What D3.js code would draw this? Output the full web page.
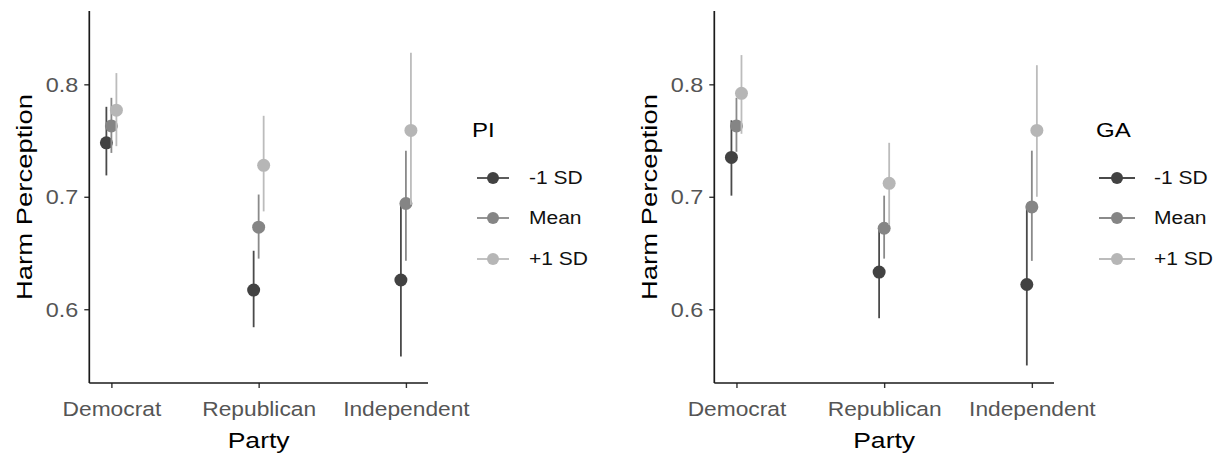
<!DOCTYPE html>
<html><head><meta charset="utf-8">
<script src="https://cdn.jsdelivr.net/npm/d3@7/dist/d3.min.js"></script>
<style>body{margin:0;background:#fff}svg{display:block}text{font-family:"Liberation Sans",Arial,sans-serif}</style>
</head><body><svg id="c" width="1224" height="456"></svg>
<script>
// ---- data ----
const categories = ["Democrat", "Republican", "Independent"];
const groups = ["-1 SD", "Mean", "+1 SD"];
const yTicks = [0.6, 0.7, 0.8];
const yTickLabels = ["0.6", "0.7", "0.8"];

// PI panel: estimate, lower, upper per group (order = categories)
const piMinusEst  = [0.748, 0.617, 0.626];
const piMinusLo   = [0.719, 0.584, 0.558];
const piMinusHi   = [0.780, 0.652, 0.694];
const piMeanEst   = [0.763, 0.673, 0.694];
const piMeanLo    = [0.739, 0.645, 0.643];
const piMeanHi    = [0.788, 0.702, 0.741];
const piPlusEst   = [0.777, 0.728, 0.759];
const piPlusLo    = [0.745, 0.687, 0.693];
const piPlusHi    = [0.810, 0.772, 0.828];

// GA panel
const gaMinusEst  = [0.735, 0.633, 0.622];
const gaMinusLo   = [0.701, 0.592, 0.550];
const gaMinusHi   = [0.768, 0.673, 0.693];
const gaMeanEst   = [0.763, 0.672, 0.691];
const gaMeanLo    = [0.740, 0.645, 0.643];
const gaMeanHi    = [0.788, 0.701, 0.741];
const gaPlusEst   = [0.792, 0.712, 0.759];
const gaPlusLo    = [0.756, 0.675, 0.700];
const gaPlusHi    = [0.826, 0.748, 0.817];

// ---- build ----
function series(est, lo, hi, g) {
  return categories.map((c, i) => ({cat: c, group: g, est: est[i], lo: lo[i], hi: hi[i]}));
}
const panels = [
  {title: "PI", x0: 89.3, x1: 428, ylab: 32, legendX: 472, keyX0: 477, keyX1: 509, labelX: 529,
   data: [series(piMinusEst, piMinusLo, piMinusHi, groups[0]),
          series(piMeanEst, piMeanLo, piMeanHi, groups[1]),
          series(piPlusEst, piPlusLo, piPlusHi, groups[2])]},
  {title: "GA", x0: 714.3, x1: 1054, ylab: 657, legendX: 1096, keyX0: 1099, keyX1: 1135, labelX: 1154,
   data: [series(gaMinusEst, gaMinusLo, gaMinusHi, groups[0]),
          series(gaMeanEst, gaMeanLo, gaMeanHi, groups[1]),
          series(gaPlusEst, gaPlusLo, gaPlusHi, groups[2])]}
];

const color = d3.scaleOrdinal().domain(groups).range(["#424242", "#858585", "#b6b6b6"]);
const lineColor = d3.scaleOrdinal().domain(groups).range(["#4a4a4a", "#8a8a8a", "#bcbcbc"]);
const svg = d3.select("#c");
svg.append("rect").attr("width", 1224).attr("height", 456).attr("fill", "#fff");

const yTop = 11, yBottom = 383;
const y = d3.scaleLinear().domain([0.5344, 0.8652]).range([yBottom, yTop]);

function stretch(sel, f) {
  sel.each(function () {
    const l = this.getComputedTextLength();
    this.setAttribute("textLength", l * f);
    this.setAttribute("lengthAdjust", "spacingAndGlyphs");
  });
}

panels.forEach(p => {
  const g = svg.append("g");
  const x = d3.scalePoint().domain(categories).range([p.x0, p.x1]).padding(0.15);
  const dodge = x.step() * 0.034;
  const xs = d3.scalePoint().domain(groups).range([-dodge, dodge]);

  // y axis
  const yAxis = d3.axisLeft(y).tickValues(yTicks).tickFormat((d, i) => yTickLabels[i]).tickSize(5).tickPadding(6);
  const ya = g.append("g").attr("transform", `translate(${p.x0},0)`).call(yAxis);
  ya.select(".domain").remove();
  ya.selectAll(".tick line").attr("stroke", "#333").attr("stroke-width", 1.4);
  ya.selectAll(".tick text").attr("fill", "#555").style("font-size", "19.5px").attr("dy", "0.36em");
  stretch(ya.selectAll(".tick text"), 1.2);
  g.append("line").attr("x1", p.x0).attr("x2", p.x0).attr("y1", yTop).attr("y2", yBottom)
    .attr("stroke", "#1a1a1a").attr("stroke-width", 1.7);

  // x axis
  const xAxis = d3.axisBottom(x).tickSize(5).tickPadding(8);
  const xa = g.append("g").attr("transform", `translate(0,${yBottom})`).call(xAxis);
  xa.select(".domain").remove();
  xa.selectAll(".tick line").attr("stroke", "#333").attr("stroke-width", 1.4);
  xa.selectAll(".tick text").attr("fill", "#555").style("font-size", "20.5px").attr("y", 18).attr("dy", "0.71em");
  stretch(xa.selectAll(".tick text"), 1.11);
  g.append("line").attr("x1", p.x0).attr("x2", p.x1).attr("y1", yBottom).attr("y2", yBottom)
    .attr("stroke", "#1a1a1a").attr("stroke-width", 1.7);

  // titles
  const xt = g.append("text").attr("x", (p.x0 + p.x1) / 2).attr("y", 448).attr("text-anchor", "middle")
    .style("font-size", "22.5px").attr("fill", "#000").text("Party");
  stretch(xt, 1.18);
  const yt = g.append("text").attr("transform", `translate(${p.ylab},${(yTop + yBottom) / 2}) rotate(-90)`)
    .attr("text-anchor", "middle").style("font-size", "22.5px").attr("fill", "#000").text("Harm Perception");
  stretch(yt, 1.22);

  // marks
  p.data.forEach(s => {
    const sg = g.append("g");
    sg.selectAll("line.err").data(s).join("line").attr("class", "err")
      .attr("x1", d => x(d.cat) + xs(d.group)).attr("x2", d => x(d.cat) + xs(d.group))
      .attr("y1", d => y(d.lo)).attr("y2", d => y(d.hi))
      .attr("stroke", d => lineColor(d.group)).attr("stroke-width", 1.8);
    sg.selectAll("circle").data(s).join("circle")
      .attr("cx", d => x(d.cat) + xs(d.group)).attr("cy", d => y(d.est)).attr("r", 6.5)
      .attr("fill", d => color(d.group));
  });

  // legend
  const lt = g.append("text").attr("x", p.legendX).attr("y", 137).style("font-size", "20px")
    .attr("fill", "#000").text(p.title);
  stretch(lt, 1.2);
  const rowY = [178, 218, 259];
  groups.forEach((gr, i) => {
    g.append("line").attr("x1", p.keyX0).attr("x2", p.keyX1).attr("y1", rowY[i]).attr("y2", rowY[i])
      .attr("stroke", lineColor(gr)).attr("stroke-width", 1.8);
    g.append("circle").attr("cx", (p.keyX0 + p.keyX1) / 2).attr("cy", rowY[i]).attr("r", 6).attr("fill", color(gr));
    const t = g.append("text").attr("x", p.labelX).attr("y", rowY[i]).attr("dy", "0.36em")
      .style("font-size", "17.5px").attr("fill", "#111").text(gr);
    stretch(t, 1.2);
  });
});
</script></body></html>
